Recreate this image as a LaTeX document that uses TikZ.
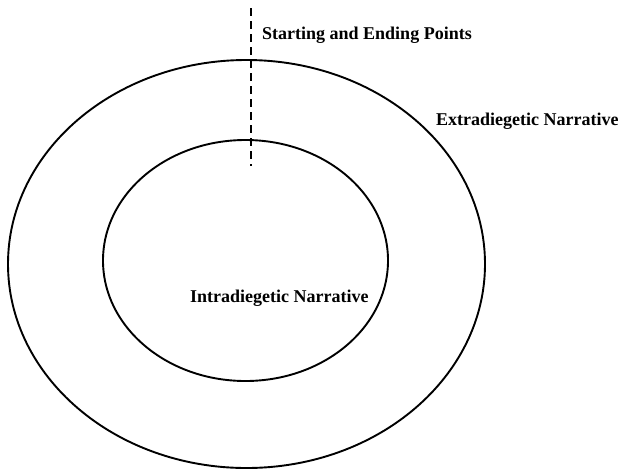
\documentclass[tikz,border=0pt]{standalone}
\usepackage{fontspec}
\setmainfont{Liberation Serif}
\begin{document}
\begin{tikzpicture}[x=1pt,y=-1pt,
  ring/.style={draw=black,line width=1.9pt},
  lbl/.style={anchor=base west,inner sep=0pt,font=\fontsize{18}{20}\selectfont\bfseries}]
\useasboundingbox (0,0) rectangle (618,472);
\draw[ring] (246.5,264) ellipse [x radius=238.5, y radius=204];
\draw[ring] (245.5,260.5) ellipse [x radius=142.5, y radius=120.5];
\coordinate (dtop) at (250.5,8);
\coordinate (dbot) at (250.5,166);
\draw[line width=2pt,dash pattern=on 8pt off 5pt] (dtop) -- (dbot);
\node[lbl] (start) at (262,39) {Starting and Ending Points};
\node[lbl] (extra) at (436,125) {Extradiegetic Narrative};
\node[lbl] (intra) at (190,302) {Intradiegetic Narrative};
\end{tikzpicture}
\end{document}
